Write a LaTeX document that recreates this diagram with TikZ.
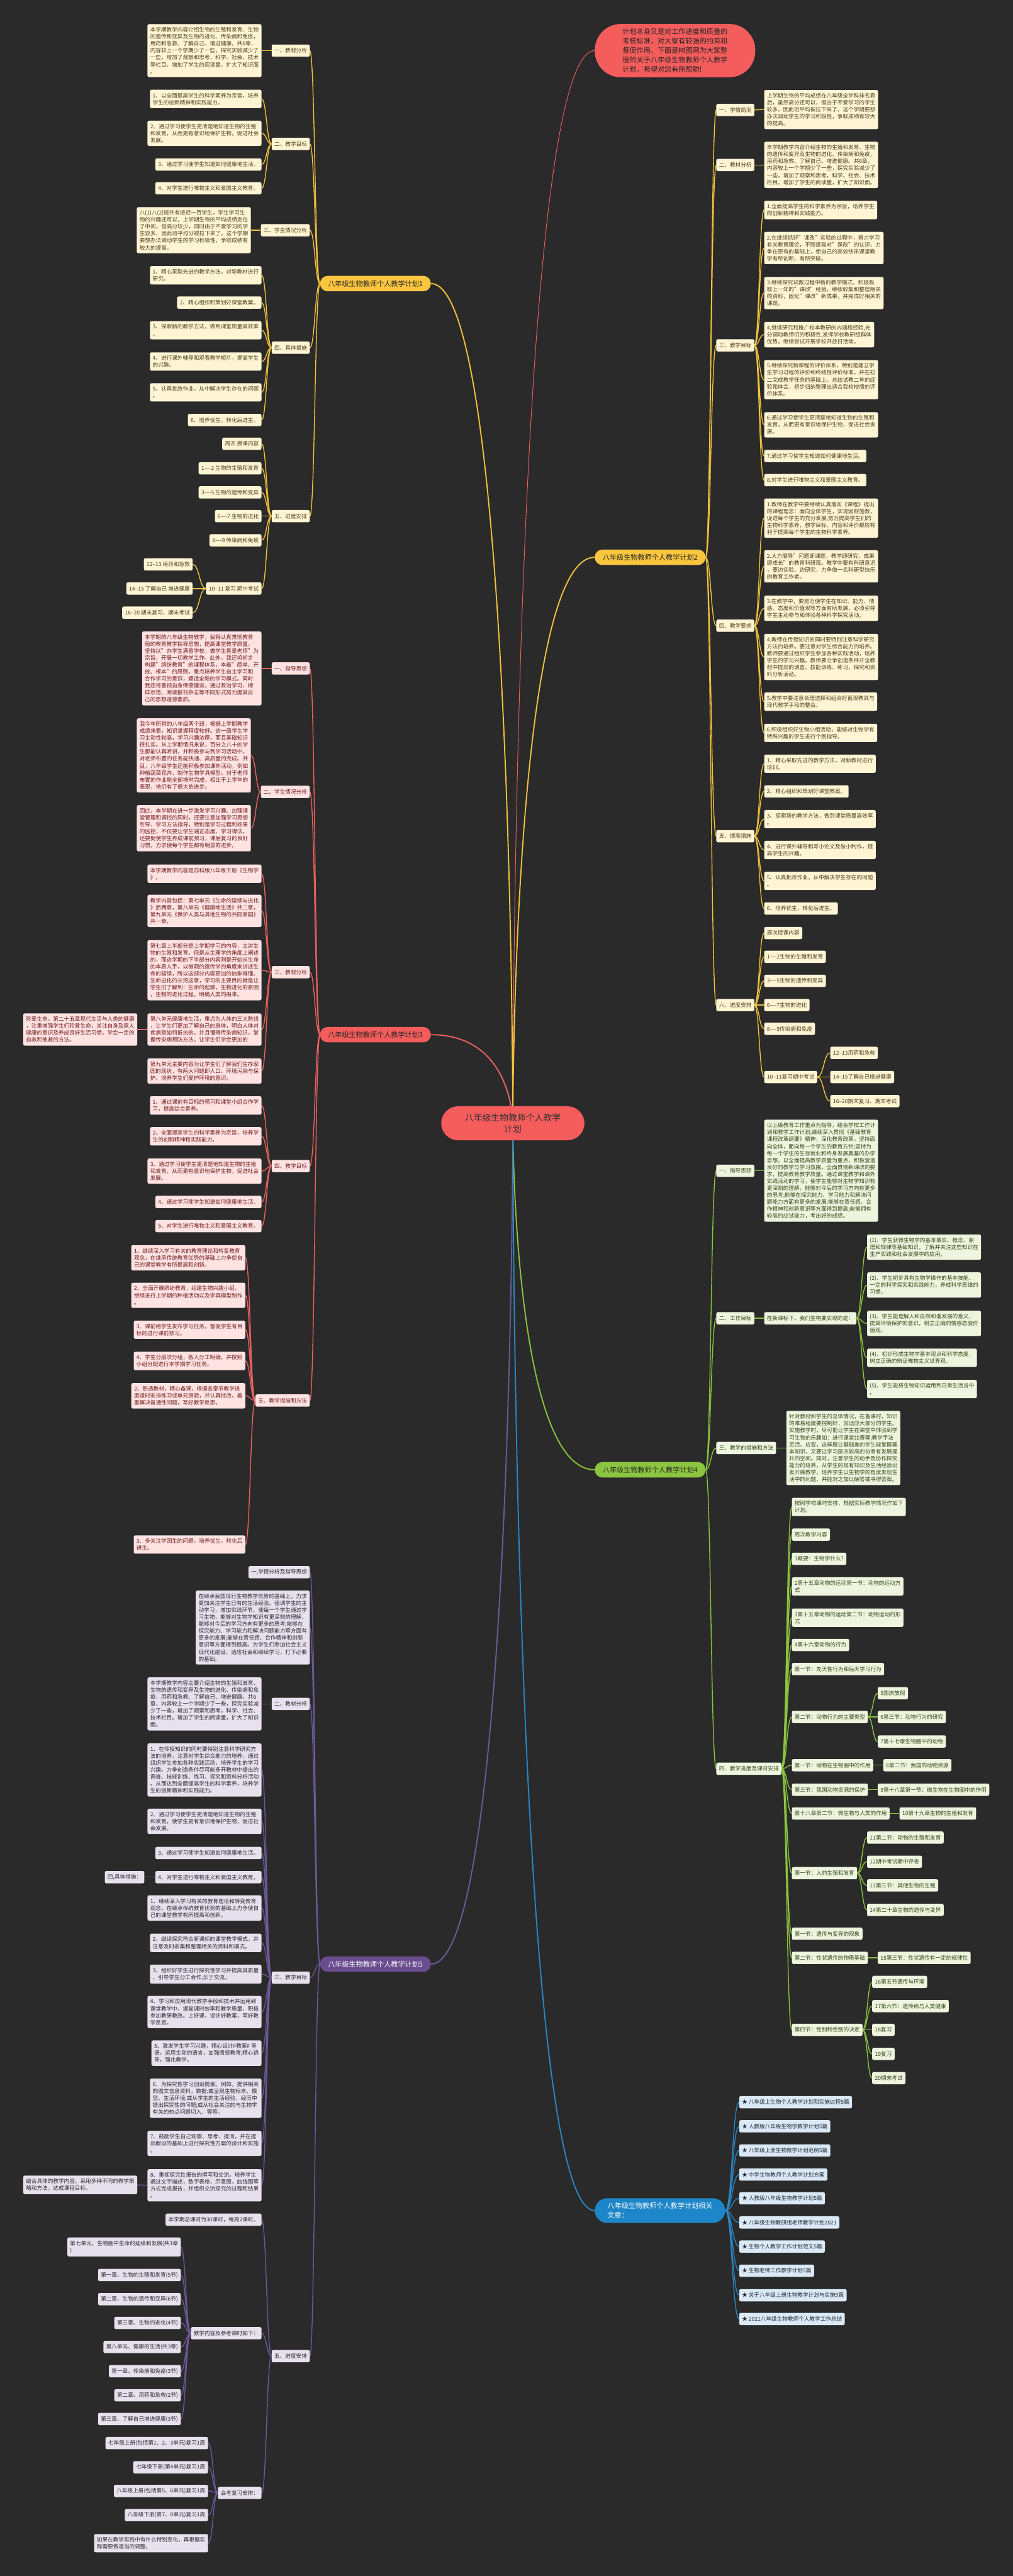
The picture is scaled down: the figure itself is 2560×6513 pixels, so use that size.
\documentclass[tikz,border=0pt]{standalone}
\usepackage{fontspec}
\setmainfont{Noto Sans CJK SC}
\usetikzlibrary{calc}
\pgfdeclarelayer{bg}
\pgfsetlayers{bg,main}
\definecolor{bgc}{HTML}{2A2A2A}
\definecolor{yN}{HTML}{FAC53F}
\definecolor{yL}{HTML}{FFF5D5}
\definecolor{yC}{HTML}{F3C33C}
\definecolor{yT}{HTML}{4B3D17}
\definecolor{rN}{HTML}{F55C5C}
\definecolor{rL}{HTML}{FFE2E2}
\definecolor{rC}{HTML}{F06262}
\definecolor{rT}{HTML}{6E1B1B}
\definecolor{gN}{HTML}{8CC53F}
\definecolor{gL}{HTML}{EEF5DE}
\definecolor{gC}{HTML}{8CC53F}
\definecolor{gT}{HTML}{35441A}
\definecolor{pN}{HTML}{6A4D8F}
\definecolor{pL}{HTML}{E6E1EC}
\definecolor{pC}{HTML}{705A9C}
\definecolor{pT}{HTML}{2B2635}
\definecolor{bN}{HTML}{1D86C8}
\definecolor{bL}{HTML}{DAE9F5}
\definecolor{bC}{HTML}{2A88C6}
\definecolor{bT}{HTML}{1E2A38}
\newcommand\cn[3]{\draw[#1] let \p1=(#2), \p2=(#3), \n1={(\x1+\x2)/2} in (\p1) .. controls (\n1,\y1) and (\n1,\y2) .. (\p2);}
\newcommand\cm[3]{\draw[#1] let \p1=(#2), \p2=(#3) in (\p1) .. controls (\p1) and (\x1,\y2) .. (\p2);}
\tikzset{
  box/.style={rectangle, rounded corners=4pt, align=left, inner xsep=7pt, inner ysep=8pt, minimum height=31pt, font=\fontsize{13.7}{17.6}\selectfont},
  ly/.style={box, fill=yL, text=yT},
  lr/.style={box, fill=rL, text=rT},
  lg/.style={box, fill=gL, text=gT},
  lp/.style={box, fill=pL, text=pT},
  lb/.style={box, fill=bL, text=bT},
  big/.style={rectangle, rounded corners=19pt, align=center, inner xsep=20pt, minimum height=39pt, font=\fontsize{17.7}{24}\selectfont},
  wy/.style={draw=yC, line width=2.2pt},
  wr/.style={draw=rC, line width=2.2pt},
  wg/.style={draw=gC, line width=2.2pt},
  wp/.style={draw=pC, line width=2.2pt},
  wb/.style={draw=bC, line width=2.2pt},
}
\begin{document}
\begin{tikzpicture}[x=1pt,y=-1pt]
\useasboundingbox (0,0) rectangle (2560,6513);
\begin{pgfonlayer}{bg}
\fill[bgc] (0,0) rectangle (2560,6513);
\end{pgfonlayer}

% center
\node[rectangle, rounded corners=43pt, fill=rN, text=black!80, align=center, minimum width=362pt, minimum height=86pt, font=\fontsize{22}{29}\selectfont] (CN) at (1296,2840) {八年级生物教师个人教学\\计划};

% intro
\node[rectangle, rounded corners=66pt, fill=rN, text=black!85, align=left, inner xsep=70pt, inner ysep=11pt, font=\fontsize{17.7}{24}\selectfont, anchor=west] (IN) at (1503,128) {计划本身又是对工作进度和质量的\\考核标准，对大家有较强的约束和\\督促作用。下面是树图网为大家整\\理的关于八年级生物教师个人教学\\计划，希望对您有所帮助!};

% ================= Branch 1 =================
\node[big, fill=yN, text=black!85, anchor=east] (B1) at (1089,717) {八年级生物教师个人教学计划1};
\node[ly, anchor=east] (a1) at (783,128) {一、教材分析};
\node[ly, anchor=east] (a2) at (783,364) {二、教学目标};
\node[ly, anchor=east] (a3) at (783,582) {三、学生情况分析};
\node[ly, anchor=east] (a4) at (783,879) {四、具体措施};
\node[ly, anchor=east] (a5) at (783,1305) {五、进度安排};
\node[ly, anchor=east] (a11) at (661,128) {本学期教学内容介绍生物的生殖和发育、生物\\的遗传和变异及生物的进化、传染病和免疫，\\用药和急救、了解自己、增进健康。共6章，\\内容较上一个学期少了一些，探究实验减少了\\一些，增加了观察和思考，科学、社会、技术\\等栏目，增加了学生的阅读量，扩大了知识面\\。};
\node[ly, anchor=east] (a21) at (661,250) {1、以全面提高学生的科学素养为宗旨，培养\\学生的创新精神和实践能力。};
\node[ly, anchor=east] (a22) at (661,337) {2、通过学习使学生更清楚地知道生物的生殖\\和发育，从而更有意识地保护生物，促进社会\\发展。};
\node[ly, anchor=east] (a23) at (661,416) {3、通过学习使学生知道如何健康地生活。};
\node[ly, anchor=east] (a24) at (661,476) {4、对学生进行唯物主义和爱国主义教育。};
\node[ly, anchor=east] (a31) at (634,582) {八(1)八(2)班共有接近一百学生，学生学习生\\物的兴趣还可以，上学期生物的平均成绩走在\\了中间，但高分较少，同时由于不爱学习的学\\生较多，因此班平均分被拉下来了。这个学期\\要想办法调动学生的学习积极性，争取成绩有\\较大的提高。};
\node[ly, anchor=east] (a41) at (661,696) {1、精心采取先进的教学方法，对新教材进行\\研究。};
\node[ly, anchor=east] (a42) at (661,765) {2、精心组织和策划好课堂教案。};
\node[ly, anchor=east] (a43) at (661,835) {3、探索新的教学方法，做到课堂质量高效率\\。};
\node[ly, anchor=east] (a44) at (661,914) {4、进行课外辅导和观看教学短片，提高学生\\的兴趣。};
\node[ly, anchor=east] (a45) at (661,992) {5、认真批改作业，从中解决学生存在的问题\\。};
\node[ly, anchor=east] (a46) at (661,1062) {6、培养优生，转化后进生。};
\node[ly, anchor=east] (a51) at (661,1122) {周次 授课内容};
\node[ly, anchor=east] (a52) at (661,1184) {1----2 生物的生殖和发育};
\node[ly, anchor=east] (a53) at (661,1245) {3----5 生物的遗传和变异};
\node[ly, anchor=east] (a54) at (661,1305) {6----7 生物的进化};
\node[ly, anchor=east] (a55) at (661,1366) {8----9 传染病和免疫};
\node[ly, anchor=east] (a56) at (661,1488) {10--11 复习 期中考试};
\node[ly, anchor=east] (a561) at (487,1427) {12--13 用药和急救};
\node[ly, anchor=east] (a562) at (487,1488) {14--15 了解自己 增进健康};
\node[ly, anchor=east] (a563) at (487,1549) {16--20 期末复习、期末考试};

% ================= Branch 2 =================
\node[big, fill=yN, text=black!85, anchor=west] (B2) at (1503,1409) {八年级生物教师个人教学计划2};
\node[ly, anchor=west] (b1) at (1810,278) {一、学情简况};
\node[ly, anchor=west] (b2) at (1810,417) {二、教材分析};
\node[ly, anchor=west] (b3) at (1810,873) {三、教学目标};
\node[ly, anchor=west] (b4) at (1810,1582) {四、教学要求};
\node[ly, anchor=west] (b5) at (1810,2114) {五、提高措施};
\node[ly, anchor=west] (b6) at (1810,2541) {六、进度安排};
\node[ly, anchor=west] (b11) at (1931,277) {上学期生物的平均成绩在八年级全学科排名靠\\后，虽然高分还可以，但由于不爱学习的学生\\较多，因此班平均被拉下来了。这个学期要想\\办法调动学生的学习积极性，争取成绩有较大\\的提高。};
\node[ly, anchor=west] (b21) at (1931,417) {本学期教学内容介绍生物的生殖和发育、生物\\的遗传和变异及生物的进化、传染病和免疫，\\用药和急救、了解自己、增进健康。共6章，\\内容较上一个学期少了一些，探究实验减少了\\一些，增加了观察和思考，科学、社会、技术\\栏目。增加了学生的阅读量，扩大了知识面。};
\node[ly, anchor=west] (b31) at (1931,531) {1.全面提高学生的科学素养为宗旨，培养学生\\的创新精神和实践能力。};
\node[ly, anchor=west] (b32) at (1931,627) {2.在继续抓好"课改"实验的过程中，努力学习\\有关教育理论，不断提高对"课改"的认识，力\\争在原有的基础上，使自己的高效快乐课堂教\\学有所创新、有所突破。};
\node[ly, anchor=west] (b33) at (1931,741) {3.继续探究试教过程中新的教学模式，积极吸\\取上一年的"课改"经验，继续收集和整理相关\\的资料，固化"课改"新成果，并完成好相关的\\课题。};
\node[ly, anchor=west] (b34) at (1931,846) {4.继续研究和推广校本教研的内涵和经验,充\\分调动教师们的积极性,发挥学校教研组群体\\优势，继续尝试开展学校开放日活动。};
\node[ly, anchor=west] (b35) at (1931,960) {5.继续探究新课程的评价体系，特别是建立学\\生学习过程的评价和终结性评价标准，并在初\\二完成教学任务的基础上，总结试教二年的经\\验和体会，初步归纳整理出适合我校校情的评\\价体系。};
\node[ly, anchor=west] (b36) at (1931,1074) {6.通过学习使学生更清楚地知道生物的生殖和\\发育，从而更有意识地保护生物，促进社会发\\展。};
\node[ly, anchor=west] (b37) at (1931,1153) {7.通过学习使学生知道如何健康地生活。};
\node[ly, anchor=west] (b38) at (1931,1214) {8.对学生进行唯物主义和爱国主义教育。};
\node[ly, anchor=west] (b41) at (1931,1310) {1.教师在教学中要继续认真落实《课程》提出\\的课程理念：面向全体学生，实现因材施教，\\促进每个学生的充分发展;努力提高学生们的\\生物科学素养，教学目标、内容和评价都应有\\利于提高每个学生的生物科学素养。};
\node[ly, anchor=west] (b42) at (1931,1432) {2.大力倡导"问题即课题，教学即研究，成果\\即成长"的教育科研观。教学中要有科研意识\\，要边实验、边研究，力争做一名科研型快乐\\的教育工作者。};
\node[ly, anchor=west] (b43) at (1931,1538) {3.在教学中，要努力使学生在知识、能力、情\\感、态度和价值观等方面有所发展，必须引导\\学生主动参与和体验各种科学探究活动。};
\node[ly, anchor=west] (b44) at (1931,1661) {4.教师在传授知识的同时要特别注意科学研究\\方法的培养。要注意对学生综合能力的培养。\\教师要通过组织学生参加各种实践活动，培养\\学生的学习兴趣。教师要力争创造条件开全教\\材中提出的调查、技能训练、练习、探究和资\\料分析活动。};
\node[ly, anchor=west] (b45) at (1931,1774) {5.教学中要注意合理选择和组合好直观教具与\\现代教学手段的整合。};
\node[ly, anchor=west] (b46) at (1931,1853) {6.积极组织好生物小组活动，能够对生物学有\\特殊兴趣的学生进行个别指导。};
\node[ly, anchor=west] (b51) at (1931,1931) {1、精心采取先进的教学方法，对新教材进行\\培训。};
\node[ly, anchor=west] (b52) at (1931,2001) {2、精心组织和策划好课堂教案。};
\node[ly, anchor=west] (b53) at (1931,2071) {3、探索新的教学方法，做到课堂质量高效率\\。};
\node[ly, anchor=west] (b54) at (1931,2149) {4、进行课外辅导和写小论文及做小制作，提\\高学生的兴趣。};
\node[ly, anchor=west] (b55) at (1931,2227) {5、认真批改作业，从中解决学生存在的问题\\。};
\node[ly, anchor=west] (b56) at (1931,2297) {6、培养优生，转化后进生。};
\node[ly, anchor=west] (b61) at (1931,2359) {周次授课内容};
\node[ly, anchor=west] (b62) at (1931,2419) {1----2生物的生殖和发育};
\node[ly, anchor=west] (b63) at (1931,2480) {3----5生物的遗传和变异};
\node[ly, anchor=west] (b64) at (1931,2541) {6----7生物的进化};
\node[ly, anchor=west] (b65) at (1931,2601) {8----9传染病和免疫};
\node[ly, anchor=west] (b66) at (1931,2723) {10--11复习期中考试};
\node[ly, anchor=west] (b661) at (2098,2662) {12--13用药和急救};
\node[ly, anchor=west] (b662) at (2098,2723) {14--15了解自己增进健康};
\node[ly, anchor=west] (b663) at (2098,2784) {16--20期末复习、期末考试};

% ================= Branch 3 =================
\node[big, fill=rN, text=black!85, anchor=east] (B3) at (1089,2616) {八年级生物教师个人教学计划3};
\node[lr, anchor=east] (c1) at (783,1690) {一、指导思想};
\node[lr, anchor=east] (c2) at (783,2002) {二、学生情况分析};
\node[lr, anchor=east] (c3) at (783,2458) {三、教材分析};
\node[lr, anchor=east] (c4) at (783,2948) {四、教学目标};
\node[lr, anchor=east] (c5) at (783,3541) {五、教学措施和方法};
\node[lr, anchor=east] (c11) at (661,1690) {本学期的八年级生物教学，我将认真贯彻教育\\局的教育教学指导思想，提高课堂教学质量，\\坚持以"办学生满意学校，做学生喜爱老师"为\\宗旨，开展一切教学工作。此外，我还将初步\\构建"缤纷教育"的课程体系，本着"简单、开\\放、根本"的原则，重点培养学生自主学习和\\合作学习的意识，塑造全新的学习模式。同时\\我还将重视自身师德建设，通过政治学习、榜\\样示范、阅读报刊杂志等不同形式努力提高自\\己的思想道德素质。};
\node[lr, anchor=east] (c21) at (634,1910) {我今年所带的八年级两个班，根据上学期教学\\成绩来看，知识掌握程度较好。这一级学生学\\习主动性较高，学习兴趣浓厚，而且基础知识\\很扎实。从上学期情况来说，百分之八十的学\\生都能认真听讲，并积极参与到学习活动中，\\对老师布置的任务能快速、高质量的完成。并\\且，八年级学生还能积极参加课外活动，例如\\种植蔬菜花卉、制作生物学具模型。对于老师\\布置的作业能全部按时完成，相比于上学年的\\表现，他们有了很大的进步。};
\node[lr, anchor=east] (c22) at (634,2094) {因此，本学期在进一步激发学习兴趣、加强课\\堂管理和调控的同时，还要注意加强学习思想\\引导、学习方法指导，特别是学习过程和效果\\的监控，不仅要让学生端正态度、学习得法，\\还要促使学生养成课前预习，课后复习的良好\\习惯，力求使每个学生都有明显的进步。};
\node[lr, anchor=east] (c31) at (661,2209) {本学期教学内容是苏科版八年级下册《生物学\\》。};
\node[lr, anchor=east] (c32) at (661,2303) {教学内容包括：第七单元《生命的延续与进化\\》后两章，第八单元《健康地生活》共二章，\\第九单元《保护人类与其他生物的共同家园》\\共一章。};
\node[lr, anchor=east] (c33) at (661,2453) {第七章上半部分是上学期学习的内容，主讲生\\物的生殖和发育，但是从生理学的角度上阐述\\的，而这学期的下半部分内容则是开始从生命\\的本质入手，以微观的遗传学的角度来讲述生\\命的延续，所以这部分内容更加的抽象难懂。\\生命进化的长河这章，学习的主要目的就是让\\学生们了解到：生命的起源，生物进化的原因\\，生物的进化过程，明确人类的由来。};
\node[lr, anchor=east] (c34) at (661,2603) {第八单元健康地生活，重点为人体的三大防线\\，让学生们更加了解自己的身体，明白人体对\\疾病是如何抵抗的。并且懂得传染病知识，掌\\握传染病预防方法。让学生们学会更加的};
\node[lr, anchor=east] (c341) at (347,2603) {珍爱生命。第二十五章现代生活与人类的健康\\，注重增强学生们珍爱生命，关注自身及家人\\健康的意识及养成良好生活习惯。学会一定的\\自救和他救的方法。};
\node[lr, anchor=east] (c35) at (661,2708) {第九单元主要内容为让学生们了解我们生存家\\园的现状，有两大问题即人口、环境污染与保\\护。培养学生们爱护环境的意识。};
\node[lr, anchor=east] (c41) at (661,2795) {1、通过课前有目标的预习和课堂小组合作学\\习，提高综合素养。};
\node[lr, anchor=east] (c42) at (661,2873) {2、全面提高学生的科学素养为宗旨，培养学\\生的创新精神和实践能力。};
\node[lr, anchor=east] (c43) at (661,2961) {3、通过学习使学生更清楚地知道生物的生殖\\和发育，从而更有意识地保护生物，促进社会\\发展。};
\node[lr, anchor=east] (c44) at (661,3039) {4、通过学习使学生知道如何健康地生活。};
\node[lr, anchor=east] (c45) at (661,3100) {5、对学生进行唯物主义和爱国主义教育。};
\node[lr, anchor=east] (c51) at (620,3180) {1、继续深入学习有关的教育理论和转变教育\\观念，在继承传统教育优势的基础上力争使自\\己的课堂教学有所提高和创新。};
\node[lr, anchor=east] (c52) at (620,3275) {2、全面开展缤纷教育，组建生物兴趣小组，\\继续进行上学期的种植活动以及学具模型制作\\。};
\node[lr, anchor=east] (c53) at (620,3362) {3、课前给学生发布学习任务，督促学生有目\\标的进行课前预习。};
\node[lr, anchor=east] (c54) at (620,3441) {4、学生分层次分组，各人分工明确，并按照\\小组分配进行本学期学习任务。};
\node[lr, anchor=east] (c55) at (620,3529) {2、熟透教材，精心备课，根据各章节教学进\\度适时安排练习或单元测验，并认真批改，着\\重解决普通性问题，写好教学反思。};
\node[lr, anchor=east] (c56) at (620,3905) {3、多关注学困生的问题，培养优生，转化后\\进生。};

% ================= Branch 4 =================
\node[big, fill=gN, text=black!85, anchor=west] (B4) at (1503,3716) {八年级生物教师个人教学计划4};
\node[lg, anchor=west] (d1) at (1810,2960) {一、指导思想};
\node[lg, anchor=west] (d2) at (1810,3333) {二、工作目标};
\node[lg, anchor=west] (d3) at (1810,3661) {三、教学的措施和方法};
\node[lg, anchor=west] (d4) at (1810,4472) {四、教学进度及课时安排};
\node[lg, anchor=west] (d11) at (1931,2960) {以上级教育工作重点为指导，结合学校工作计\\划和教学工作计划,继续深入贯彻《基础教育\\课程改革纲要》精神，深化教育改革，坚持面\\向全体，面向每一个学生的教育方针;坚持为\\每一个学生的生存就业和终身发展奠基的办学\\思想。以全面提高教学质量为重点，积极营造\\良好的教学与学习氛围，全面贯彻新课改的要\\求，提高教育教学质量。通过课堂教学和课外\\实践活动的学习，使学生能够对生物学知识有\\更深刻的理解，能够对今后的学习方向有更多\\的思考;能够在探究能力、学习能力和解决问\\题能力方面有更多的发展;能够在责任感、合\\作精神和创新意识等方面得到提高;能够拥有\\较高的应试能力，考出好的成绩。};
\node[lg, anchor=west] (d21) at (1931,3333) {在新课标下，我们生物要实现的是：};
\node[lg, anchor=west] (d211) at (2191,3153) {(1)、学生获得生物学的基本事实、概念、原\\理和规律等基础知识，了解并关注这些知识在\\生产实践和社会发展中的应用。};
\node[lg, anchor=west] (d212) at (2191,3249) {(2)、学生初步具有生物学操作的基本技能、\\一定的科学探究和实践能力，养成科学思维的\\习惯。};
\node[lg, anchor=west] (d213) at (2191,3346) {(3)、学生能理解人和自然和谐发展的意义，\\提高环境保护的意识，树立正确的情感态度价\\值观。};
\node[lg, anchor=west] (d214) at (2191,3433) {(4)、初步形成生物学基本观点和科学态度，\\树立正确的辩证唯物主义世界观。};
\node[lg, anchor=west] (d215) at (2191,3512) {(5)、学生能将生物知识运用到日常生活当中\\。};
\node[lg, anchor=west] (d31) at (1987,3661) {针对教材和学生的总体情况，在备课时，知识\\的难易程度要控制好，应适应大部分的学生。\\实施教学时，尽可能让学生在课堂中体验到学\\习生物的乐趣如：进行课堂比赛等;教学手法\\灵活、应变，这样既让基础差的学生能掌握基\\本知识，又要让学习层次较高的协商有发展提\\升的空间。同时，注意学生的动手及协作探究\\能力的培养，从学生的现有知识及生活经验出\\发开展教学，培养学生以生物学的角度发现生\\活中的问题，并能对之加以解答或寻得答案。};
\node[lg, anchor=west] (d41) at (2001,3810) {按照学校课时安排，根据实际教学情况作如下\\计划。};
\node[lg, anchor=west] (d42) at (2001,3880) {周次教学内容};
\node[lg, anchor=west] (d43) at (2001,3941) {1概要：生物学什么?};
\node[lg, anchor=west] (d44) at (2001,4011) {2第十五章动物的运动第一节：动物的运动方\\式};
\node[lg, anchor=west] (d45) at (2001,4090) {3第十五章动物的运动第二节：动物运动的形\\式};
\node[lg, anchor=west] (d46) at (2001,4159) {4第十六章动物的行为};
\node[lg, anchor=west] (d47) at (2001,4220) {第一节：先天性行为和后天学习行为};
\node[lg, anchor=west] (d48) at (2001,4341) {第二节：动物行为的主要类型};
\node[lg, anchor=west] (d481) at (2218,4281) {5国庆放假};
\node[lg, anchor=west] (d482) at (2218,4341) {6第三节：动物行为的研究};
\node[lg, anchor=west] (d483) at (2218,4403) {7第十七章生物圈中的动物};
\node[lg, anchor=west] (d49) at (2001,4463) {第一节：动物在生物圈中的作用};
\node[lg, anchor=west] (d491) at (2232,4463) {8第二节：我国的动物资源};
\node[lg, anchor=west] (d4a) at (2001,4525) {第三节：我国动物资源的保护};
\node[lg, anchor=west] (d4a1) at (2218,4525) {9第十八章第一节：微生物在生物圈中的作用};
\node[lg, anchor=west] (d4b) at (2001,4585) {第十八章第二节：微生物与人类的作用};
\node[lg, anchor=west] (d4b1) at (2273,4585) {10第十九章生物的生殖和发育};
\node[lg, anchor=west] (d4c) at (2001,4736) {第一节：人的生殖和发育};
\node[lg, anchor=west] (d4c1) at (2191,4646) {11第二节：动物的生殖和发育};
\node[lg, anchor=west] (d4c2) at (2191,4707) {12期中考试期中评卷};
\node[lg, anchor=west] (d4c3) at (2191,4767) {13第三节：其他生物的生殖};
\node[lg, anchor=west] (d4c4) at (2191,4829) {14第二十章生物的遗传与变异};
\node[lg, anchor=west] (d4d) at (2001,4889) {第一节：遗传与变异的现象};
\node[lg, anchor=west] (d4e) at (2001,4950) {第二节：性状遗传的物质基础};
\node[lg, anchor=west] (d4e1) at (2218,4950) {15第三节：性状遗传有一定的规律性};
\node[lg, anchor=west] (d4f) at (2001,5132) {第四节：性别和性别的决定};
\node[lg, anchor=west] (d4f1) at (2204,5011) {16第五节遗传与环境};
\node[lg, anchor=west] (d4f2) at (2204,5072) {17第六节：遗传病与人类健康};
\node[lg, anchor=west] (d4f3) at (2204,5132) {18复习};
\node[lg, anchor=west] (d4f4) at (2204,5193) {19复习};
\node[lg, anchor=west] (d4f5) at (2204,5254) {20期末考试};

% ================= Related =================
\node[big, fill=bN, text=white, anchor=west, align=left, rounded corners=31pt, inner xsep=32pt, inner ysep=11pt] (R) at (1503,5589) {八年级生物教师个人教学计划相关\\文章：};
\node[lb, anchor=west] (r1) at (1868,5315) {★ 八年级上生物个人教学计划和实施过程5篇};
\node[lb, anchor=west] (r2) at (1868,5376) {★ 人教版八年级生物学教学计划5篇};
\node[lb, anchor=west] (r3) at (1868,5437) {★ 八年级上册生物教学计划范例5篇};
\node[lb, anchor=west] (r4) at (1868,5498) {★ 中学生物教师个人教学计划方案};
\node[lb, anchor=west] (r5) at (1868,5558) {★ 人教版八年级生物教学计划5篇};
\node[lb, anchor=west] (r6) at (1868,5619) {★ 八年级生物教研组老师教学计划2021};
\node[lb, anchor=west] (r7) at (1868,5680) {★ 生物个人教学工作计划范文5篇};
\node[lb, anchor=west] (r8) at (1868,5741) {★ 生物老师工作教学计划5篇};
\node[lb, anchor=west] (r9) at (1868,5803) {★ 关于八年级上册生物教学计划与实施5篇};
\node[lb, anchor=west] (r10) at (1868,5863) {★ 2021八年级生物教师个人教学工作总结};

% ================= Branch 5 =================
\node[big, fill=pN, text=white, anchor=east] (B5) at (1089,4966) {八年级生物教师个人教学计划5};
\node[lp, anchor=east] (e1) at (783,3975) {一,学情分析及指导思想};
\node[lp, anchor=east] (e1x) at (783,4115) {在继承我国现行生物教学优势的基础上，力求\\更加关注学生已有的生活经验。强调学生的主\\动学习，增加实践环节，使每一个学生通过学\\习生物，能够对生物学知识有更深刻的理解，\\能够对今后的学习方向有更多的思考;能够在\\探究能力、学习能力和解决问题能力等方面有\\更多的发展;能够在责任感、合作精神和创新\\意识等方面得到提高。为学生们参加社会主义\\现代化建设，适应社会和继续学习，打下必要\\的基础。};
\node[lp, anchor=east] (e2) at (783,4308) {二、教材分析};
\node[lp, anchor=east] (e21) at (661,4308) {本学期教学内容主要介绍生物的生殖和发育、\\生物的遗传和变异及生物的进化、传染病和免\\疫，用药和急救、了解自己、增进健康。共6\\章，内容较上一个学期少了一些，探究实验减\\少了一些，增加了观察和思考，科学、社会、\\技术栏目。增加了学生的阅读量，扩大了知识\\面。};
\node[lp, anchor=east] (e3) at (783,5000) {三、教学目标};
\node[lp, anchor=east] (e31) at (661,4475) {1、在传授知识的同时要特别注意科学研究方\\法的培养，注意对学生综合能力的培养，通过\\组织学生参加各种实践活动，培养学生的学习\\兴趣。力争创造条件尽可能多开教材中提出的\\调查、技能训练、练习、探究和资料分析活动\\。从而达到全面提高学生的科学素养，培养学\\生的创新精神和实践能力。};
\node[lp, anchor=east] (e32) at (661,4605) {2、通过学习使学生更清楚地知道生物的生殖\\和发育，使学生更有意识地保护生物，促进社\\会发展。};
\node[lp, anchor=east] (e33) at (661,4685) {3、通过学习使学生知道如何健康地生活。};
\node[lp, anchor=east] (e34) at (661,4746) {4、对学生进行唯物主义和爱国主义教育。};
\node[lp, anchor=east] (e341) at (365,4746) {四,具体措施：};
\node[lp, anchor=east] (e35) at (661,4824) {1、继续深入学习有关的教育理论和转变教育\\观念，在继承传统教育优势的基础上力争使自\\己的课堂教学有所提高和创新。};
\node[lp, anchor=east] (e36) at (661,4912) {2、继续探究符合新课标的课堂教学模式，并\\注意及时收集和整理相关的资料和模式。};
\node[lp, anchor=east] (e37) at (661,4991) {3、组织好学生进行探究性学习并提高其质量\\，引导学生分工合作,乐于交流。};
\node[lp, anchor=east] (e38) at (661,5087) {4、学习和应用现代教学手段和技术并运用到\\课堂教学中，提高课时效率和教学质量，积极\\参加教研教改。上好课，设计好教案，写好教\\学反思。};
\node[lp, anchor=east] (e39) at (661,5191) {5、激发学生学习兴趣，精心设计\#教案\# 导\\语，运用生动的语言，加强情感教育;精心诱\\导，强化教学。};
\node[lp, anchor=east] (e3a) at (661,5305) {6、为探究性学习创设情景。例如，提供相关\\的图文信息资料，数据;或呈现生物标本、模\\型、生活环境;或从学生的生活经验，经历中\\提出探究性的问题;或从社会关注的与生物学\\有关的热点问题切入，等等。};
\node[lp, anchor=east] (e3b) at (661,5419) {7、鼓励学生自己观察、思考、提问，并在提\\出假设的基础上进行探究性方案的设计和实施\\。};
\node[lp, anchor=east] (e3c) at (661,5525) {8、重视探究性报告的撰写和交流。培养学生\\通过文字描述，数字表格，示意图，曲线图等\\方式完成报告，并组织交流探究的过程和结果\\。};
\node[lp, anchor=east] (e3c1) at (347,5524) {结合具体的教学内容，采用多种不同的教学策\\略和方法，达成课程目标。};
\node[lp, anchor=east] (e4) at (783,5957) {五、进度安排};
\node[lp, anchor=east] (e41) at (661,5612) {本学期总课时为30课时，每周2课时。};
\node[lp, anchor=east] (e42) at (661,5899) {教学内容及参考课时如下：};
\node[lp, anchor=east] (e421) at (457,5681) {第七单元、生物圈中生命的延续和发展(共3章\\)};
\node[lp, anchor=east] (e422) at (457,5752) {第一章、生物的生殖和发育(5节)};
\node[lp, anchor=east] (e423) at (457,5813) {第二章、生物的遗传和变异(6节)};
\node[lp, anchor=east] (e424) at (457,5873) {第三章、生物的进化(4节)};
\node[lp, anchor=east] (e425) at (457,5934) {第八单元、健康的生活(共3章)};
\node[lp, anchor=east] (e426) at (457,5995) {第一章、传染病和免疫(3节)};
\node[lp, anchor=east] (e427) at (457,6056) {第二章、用药和急救(2节)};
\node[lp, anchor=east] (e428) at (457,6116) {第三章、了解自己增进健康(3节)};
\node[lp, anchor=east] (e43) at (661,6303) {会考复习安排：};
\node[lp, anchor=east] (e431) at (526,6177) {七年级上册(包括第1、2、3单元)复习1周};
\node[lp, anchor=east] (e432) at (526,6238) {七年级下册(第4单元)复习1周};
\node[lp, anchor=east] (e433) at (526,6298) {八年级上册(包括第5、6单元)复习1周};
\node[lp, anchor=east] (e434) at (526,6359) {八年级下册(第7、8单元)复习1周};
\node[lp, anchor=east] (e435) at (526,6430) {如果在教学实践中有什么特别变化，再根据实\\际需要做适当的调整。};

% ================= connectors =================
\begin{pgfonlayer}{bg}
\cm{draw=rC, line width=1.5pt}{CN.center}{IN.west}
\cm{draw=yC, line width=3pt}{CN.center}{B1.east}
\cm{draw=yC, line width=3pt}{CN.center}{B2.west}
\cm{draw=rC, line width=3pt}{CN.center}{B3.east}
\cm{draw=gC, line width=3pt}{CN.center}{B4.west}
\cm{draw=pC, line width=3pt}{CN.center}{B5.east}
\cm{draw=bC, line width=3pt}{CN.center}{R.west}
\foreach \t in {a1,a2,a3,a4,a5} {\cn{wy}{B1.west}{\t.east}}
\cn{wy}{a1.west}{a11.east}
\foreach \t in {a21,a22,a23,a24} {\cn{wy}{a2.west}{\t.east}}
\cn{wy}{a3.west}{a31.east}
\foreach \t in {a41,a42,a43,a44,a45,a46} {\cn{wy}{a4.west}{\t.east}}
\foreach \t in {a51,a52,a53,a54,a55,a56} {\cn{wy}{a5.west}{\t.east}}
\foreach \t in {a561,a562,a563} {\cn{wy}{a56.west}{\t.east}}
\foreach \t in {b1,b2,b3,b4,b5,b6} {\cn{wy}{B2.east}{\t.west}}
\cn{wy}{b1.east}{b11.west}
\cn{wy}{b2.east}{b21.west}
\foreach \t in {b31,b32,b33,b34,b35,b36,b37,b38} {\cn{wy}{b3.east}{\t.west}}
\foreach \t in {b41,b42,b43,b44,b45,b46} {\cn{wy}{b4.east}{\t.west}}
\foreach \t in {b51,b52,b53,b54,b55,b56} {\cn{wy}{b5.east}{\t.west}}
\foreach \t in {b61,b62,b63,b64,b65,b66} {\cn{wy}{b6.east}{\t.west}}
\foreach \t in {b661,b662,b663} {\cn{wy}{b66.east}{\t.west}}
\foreach \t in {c1,c2,c3,c4,c5} {\cn{wr}{B3.west}{\t.east}}
\cn{wr}{c1.west}{c11.east}
\foreach \t in {c21,c22} {\cn{wr}{c2.west}{\t.east}}
\foreach \t in {c31,c32,c33,c34,c35} {\cn{wr}{c3.west}{\t.east}}
\cn{wr}{c34.west}{c341.east}
\foreach \t in {c41,c42,c43,c44,c45} {\cn{wr}{c4.west}{\t.east}}
\foreach \t in {c51,c52,c53,c54,c55,c56} {\cn{wr}{c5.west}{\t.east}}
\foreach \t in {d1,d2,d3,d4} {\cn{wg}{B4.east}{\t.west}}
\cn{wg}{d1.east}{d11.west}
\cn{wg}{d2.east}{d21.west}
\foreach \t in {d211,d212,d213,d214,d215} {\cn{wg}{d21.east}{\t.west}}
\cn{wg}{d3.east}{d31.west}
\foreach \t in {d41,d42,d43,d44,d45,d46,d47,d48,d49,d4a,d4b,d4c,d4d,d4e,d4f} {\cn{wg}{d4.east}{\t.west}}
\foreach \t in {d481,d482,d483} {\cn{wg}{d48.east}{\t.west}}
\cn{wg}{d49.east}{d491.west}
\cn{wg}{d4a.east}{d4a1.west}
\cn{wg}{d4b.east}{d4b1.west}
\foreach \t in {d4c1,d4c2,d4c3,d4c4} {\cn{wg}{d4c.east}{\t.west}}
\cn{wg}{d4e.east}{d4e1.west}
\foreach \t in {d4f1,d4f2,d4f3,d4f4,d4f5} {\cn{wg}{d4f.east}{\t.west}}
\foreach \t in {r1,r2,r3,r4,r5,r6,r7,r8,r9,r10} {\cn{wb}{R.east}{\t.west}}
\foreach \t in {e1,e1x,e2,e3,e4} {\cn{wp}{B5.west}{\t.east}}
\cn{wp}{e2.west}{e21.east}
\foreach \t in {e31,e32,e33,e34,e35,e36,e37,e38,e39,e3a,e3b,e3c} {\cn{wp}{e3.west}{\t.east}}
\cn{wp}{e34.west}{e341.east}
\cn{wp}{e3c.west}{e3c1.east}
\foreach \t in {e41,e42,e43} {\cn{wp}{e4.west}{\t.east}}
\foreach \t in {e421,e422,e423,e424,e425,e426,e427,e428} {\cn{wp}{e42.west}{\t.east}}
\foreach \t in {e431,e432,e433,e434,e435} {\cn{wp}{e43.west}{\t.east}}
\end{pgfonlayer}
\end{tikzpicture}
\end{document}
